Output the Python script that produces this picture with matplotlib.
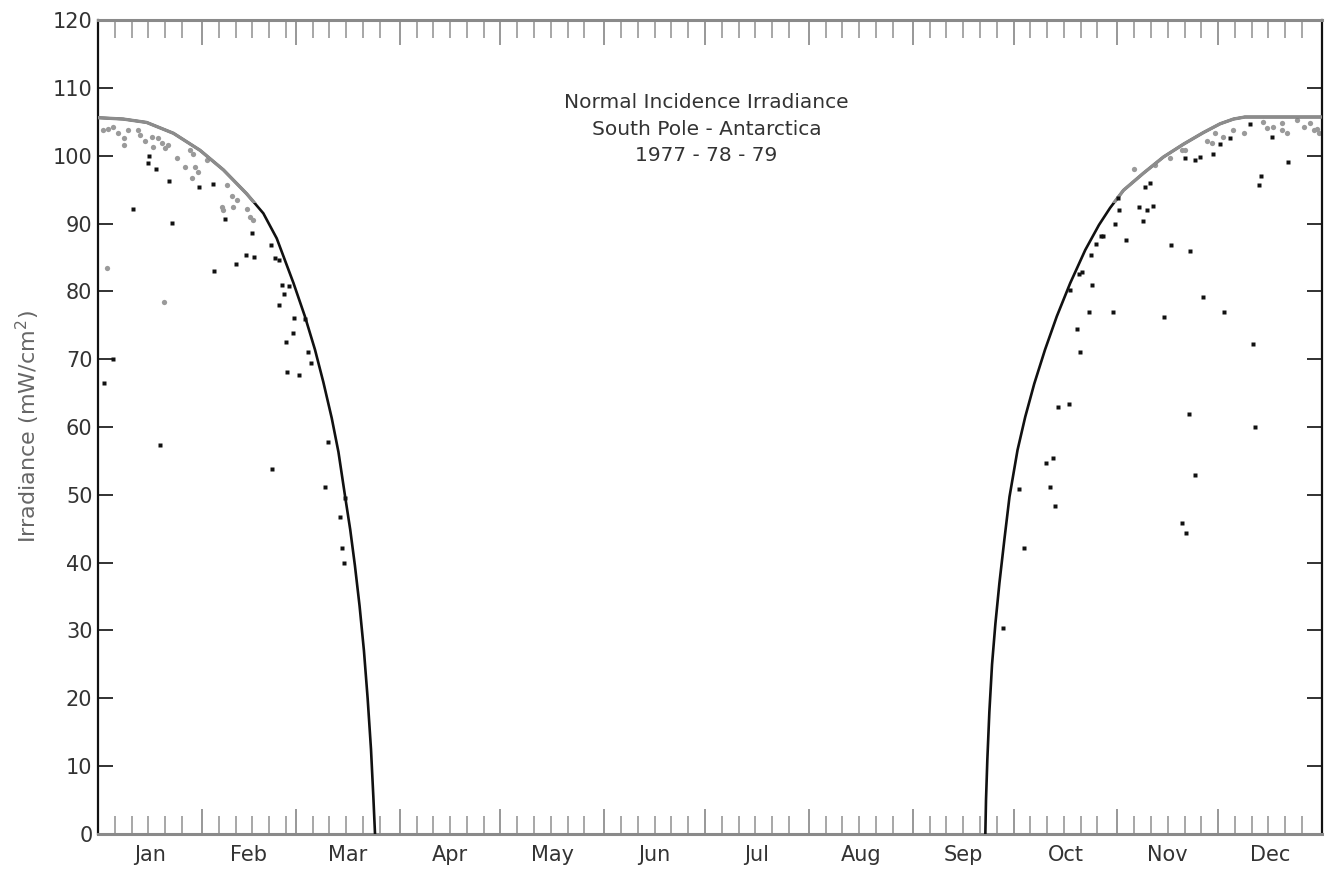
import matplotlib.pyplot as plt
from matplotlib.patches import Rectangle
import numpy as np

# dias do ano (0 = 1 jan) e irradiancia em mW/cm2
curva_ini_dias = [0, 7.5, 14.5, 22.5, 30.4, 37.4, 44.3, 49.3, 53.3, 55.5, 58.3, 61.7, 64.7,
                  67.2, 69.7, 71.7, 73.7, 75.2, 76.6, 78.0, 79.3, 80.4, 81.4, 82.1, 82.6]
curva_ini_vals = [105.6, 105.4, 104.9, 103.3, 100.8, 97.9, 94.4, 91.5, 87.8, 84.9, 81.2, 76.3, 71.4,
                  66.6, 61.3, 56.3, 49.7, 44.9, 39.6, 33.6, 27.0, 20.0, 12.5, 5.5, 0]
curva_fim_dias = [264.6, 264.8, 265.2, 265.8, 266.6, 267.6, 268.8, 270.3, 271.8, 274.2, 276.5,
                  279.2, 282.4, 285.9, 289.9, 294.4, 298.5, 301.8, 305.8, 311.7, 317.7, 323.7,
                  329.6, 334.6, 338.6, 342.0, 365]
curva_fim_vals = [0, 5.0, 11.0, 18.0, 25.0, 31.0, 37.0, 43.5, 49.7, 56.6, 61.5,
                  66.4, 71.4, 76.3, 81.2, 86.1, 89.8, 92.3, 94.9, 97.4, 99.8, 101.7,
                  103.4, 104.7, 105.4, 105.7, 105.7]

# pontos cinza (proximos da envoltoria)
cinza_dias = [1.6, 3.1, 4.6, 6.1, 7.6, 7.6, 9.0, 12.0, 12.5, 14.0, 16.0, 16.5, 18.0, 19.0,
              20.0, 21.0, 23.5, 25.9, 27.4, 28.4, 28.9, 29.9, 27.9, 32.4, 38.4, 39.9, 41.4,
              40.4, 36.9, 37.4, 44.3, 45.3, 46.3, 2.6, 19.8,
              308.8, 323.2, 324.2, 330.7, 332.1, 333.1, 338.6, 341.6, 347.5, 348.6, 350.5,
              353.0, 354.5, 357.5, 361.5, 362.5, 364.0, 319.7, 315.2, 359.5, 363.5, 335.6, 353.0]
cinza_vals = [103.8, 104.0, 104.3, 103.3, 102.6, 101.6, 103.8, 103.8, 103.0, 102.1, 102.8, 101.3,
              102.6, 101.8, 101.1, 101.6, 99.6, 98.3, 100.9, 100.2, 98.4, 97.6, 96.7, 99.4, 95.7,
              94.0, 93.5, 92.5, 92.5, 92.0, 92.2, 91.0, 90.5, 83.5, 78.5,
              98.0, 100.8, 100.8, 102.1, 101.8, 103.3, 103.8, 103.3, 105.0, 104.1, 104.3,
              104.8, 103.3, 105.3, 104.8, 103.8, 103.3, 99.6, 98.6, 104.3, 104.0, 102.8, 103.8]

# pontos pretos
preto_dias = [15.3, 15.0, 17.3, 21.1, 10.5, 22.2, 30.1, 34.2, 37.9, 45.8, 51.6, 44.1, 46.6,
              41.2, 34.7, 52.8, 54.0, 55.0, 56.9, 55.4, 54.0, 58.5, 61.8, 58.1, 56.0, 62.5,
              63.4, 56.5, 59.9, 4.6, 1.8, 18.5, 68.5, 52.0, 67.7, 73.7, 72.2, 72.8, 73.3,
              343.4, 350.0, 337.6, 334.6, 332.6, 328.6, 327.2, 324.0, 354.8, 346.8, 346.1,
              313.7, 312.3, 304.3, 304.6, 310.3, 312.8, 314.7, 311.6, 303.3, 299.8, 299.1,
              297.6, 296.2, 306.6, 319.9, 325.7, 293.4, 292.4, 296.4, 289.9, 329.5, 295.6,
              302.6, 318.0, 335.8, 291.9, 292.7, 344.4, 286.4, 289.5, 325.2, 345.0, 284.9,
              282.7, 327.0, 274.6, 284.0, 285.4, 323.2, 324.4, 276.0, 270.0]
preto_vals = [100.0, 98.9, 98.1, 96.2, 92.1, 90.1, 95.4, 95.8, 90.7, 88.6, 86.9, 85.4, 85.0,
              84.0, 83.0, 84.9, 84.6, 81.0, 80.8, 79.6, 78.0, 76.0, 75.9, 73.8, 72.5, 71.1,
              69.5, 68.1, 67.6, 70.0, 66.5, 57.3, 57.8, 53.8, 51.1, 49.5, 46.8, 42.2, 40.0,
              104.6, 102.7, 102.6, 101.7, 100.3, 99.8, 99.4, 99.6, 99.1, 97.0, 95.7,
              95.9, 95.4, 93.7, 92.0, 92.5, 92.0, 92.6, 90.4, 89.9, 88.2, 88.1,
              87.0, 85.4, 87.5, 86.9, 86.0, 82.8, 82.5, 80.9, 80.2, 79.1, 77.0,
              76.9, 76.2, 76.9, 74.5, 71.0, 72.3, 63.0, 63.4, 61.9, 60.0, 55.5,
              54.7, 52.9, 50.9, 51.2, 48.4, 45.8, 44.3, 42.1, 30.3]

meses = ['Jan', 'Feb', 'Mar', 'Apr', 'May', 'Jun', 'Jul', 'Aug', 'Sep', 'Oct', 'Nov', 'Dec']
dias_mes = [31, 28, 31, 30, 31, 30, 31, 31, 30, 31, 30, 31]

inicio_mes = np.concatenate([[0], np.cumsum(dias_mes)[:-1]])
meio_mes = inicio_mes + np.array(dias_mes) / 2
marcas_5 = [s + k for s, n in zip(inicio_mes, dias_mes) for k in range(5, n, 5) if k < n - 2]

fig = plt.figure(figsize=(13.3, 8.74), dpi=100)
ax = fig.add_axes([0.0737, 0.0458, 0.9203, 0.9313])

cinza = '#8c8c8c'
for dias, vals in [(curva_ini_dias, curva_ini_vals), (curva_fim_dias, curva_fim_vals)]:
    ax.plot(dias, vals, color='#111111', lw=1.9, zorder=3, solid_joinstyle='round')
    linha, = ax.plot(dias, vals, color=cinza, lw=2.4, zorder=4, solid_joinstyle='round')
    # parte de cima da curva sai cinza no original
    linha.set_clip_path(Rectangle((0, 93.0), 365, 30, transform=ax.transData))

ax.plot(cinza_dias, cinza_vals, 'o', color='#9a9a9a', ms=3.8, mec='none', zorder=2)
ax.plot(preto_dias, preto_vals, 's', color='#111111', ms=2.6, mec='none', zorder=5)

ax.set_xlim(0, 365)
ax.set_ylim(0, 120)
ax.set_yticks(range(0, 121, 10))

ax.set_xticks(inicio_mes, labels=[''] * 12)
ax.set_xticks(marcas_5, minor=True)
ax.tick_params(axis='x', which='major', direction='in', top=True, bottom=True,
               length=18, width=1.3, color='#909090')
ax.tick_params(axis='x', which='minor', direction='in', top=True, bottom=True,
               length=13, width=1.3, color='#a0a0a0')
ax.tick_params(axis='y', direction='in', left=True, right=True, length=11, width=1.3,
               color='#222222', labelsize=15, labelcolor='#333333', pad=4)

sec = ax.secondary_xaxis('bottom')
sec.set_xticks(meio_mes, labels=meses)
sec.tick_params(length=0, labelsize=15, labelcolor='#333333', pad=8)
sec.spines['bottom'].set_visible(False)

for lado in ['left', 'right']:
    ax.spines[lado].set_color('#111111')
    ax.spines[lado].set_linewidth(1.6)
for lado in ['top', 'bottom']:
    ax.spines[lado].set_color('#8a8a8a')
    ax.spines[lado].set_linewidth(2.2)

ax.set_ylabel('Irradiance (mW/cm$^2$)', fontsize=16, color='#666666', labelpad=8)

ax.text(0.497, 0.91, 'Normal Incidence Irradiance\nSouth Pole - Antarctica\n1977 - 78 - 79',
        transform=ax.transAxes, ha='center', va='top', fontsize=14.5, color='#333333',
        linespacing=1.5)

fig.savefig('out.png', dpi=100)
